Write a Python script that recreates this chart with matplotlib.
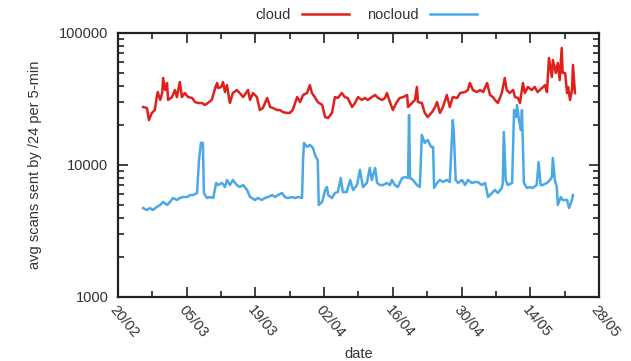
import matplotlib
matplotlib.use("Agg")
import matplotlib.pyplot as plt
from matplotlib.ticker import FixedLocator, LogLocator, NullFormatter, FixedFormatter
import numpy as np

plt.rcParams['font.family'] = ['Liberation Sans', 'DejaVu Sans']

# x: days since 20/02 (2012), y: avg scans sent by /24 per 5-min
cloud_days = [5.1, 5.9, 6.3, 6.9, 7.5, 7.9, 8.1, 8.6, 9.0, 9.2, 9.6, 10.0, 10.2, 11.0, 11.6, 12.0,
              12.6, 13.0, 13.6, 14.3, 15.1, 15.7, 16.3, 17.1, 17.7, 18.3, 19.1, 19.8, 20.2, 20.4,
              21.0, 21.4, 21.8, 22.2, 22.8, 23.4, 24.2, 24.8, 25.5, 26.5, 26.9, 27.5, 28.3, 28.9,
              29.5, 30.4, 31.0, 31.6, 32.4, 33.0, 33.6, 34.4, 35.0, 35.6, 36.5, 37.1, 37.7, 38.5,
              39.1, 39.5, 40.1, 40.7, 41.6, 42.2, 42.8, 43.6, 44.2, 44.8, 45.6, 46.2, 46.8, 47.7,
              48.3, 48.9, 49.7, 50.3, 50.9, 51.7, 52.4, 53.0, 53.8, 54.4, 54.8, 55.4, 56.0, 56.8,
              57.4, 58.1, 58.9, 59.1, 59.9, 60.5, 60.9, 61.1, 61.9, 62.5, 63.1, 64.0, 64.6, 65.0,
              65.6, 66.2, 67.0, 67.6, 68.2, 69.1, 69.7, 70.7, 71.3, 71.7, 72.3, 73.1, 73.8, 74.4,
              75.2, 75.8, 76.4, 76.8, 77.4, 78.2, 78.8, 79.2, 79.8, 80.5, 80.9, 81.5, 81.9, 82.5,
              82.9, 83.5, 84.3, 84.9, 85.5, 86.4, 87.0, 87.4, 87.8, 88.4, 88.6, 89.2, 89.6, 90.0,
              90.4, 90.6, 91.1, 91.5, 91.7, 92.1, 92.5, 92.7, 93.1]
cloud_vals = [27500, 27000, 21900, 24800, 26100, 32700, 35700, 31100, 35100, 45600, 37000, 41800,
              31100, 32700, 37000, 32700, 42500, 32700, 35100, 32700, 32200, 30000, 29500, 29500,
              28500, 29500, 31100, 38300, 41800, 38300, 39000, 42500, 35700, 40300, 29500, 35100,
              37000, 35100, 32700, 37000, 31100, 35100, 32700, 26100, 27000, 32200, 27500, 27000,
              26100, 26100, 25200, 24800, 24800, 26100, 32700, 30000, 33900, 35100, 40300, 35100,
              32700, 30000, 28500, 23100, 22700, 24800, 32700, 32200, 35100, 32700, 32200, 27500,
              29500, 32700, 31100, 32200, 31100, 32700, 33900, 32200, 31100, 32200, 35100, 30000,
              26100, 30000, 32200, 32700, 33900, 27500, 29500, 31100, 39000, 30000, 29500, 24800,
              23100, 25200, 27500, 30000, 24800, 27500, 33900, 27500, 32700, 32200, 35100, 35700,
              37000, 41800, 37000, 35700, 37000, 35700, 41800, 33900, 32700, 31100, 29500, 35100,
              45600, 37000, 35100, 37000, 32700, 32200, 29500, 41800, 35100, 39000, 37000, 39000,
              35700, 38300, 40300, 35700, 64700, 46400, 62400, 49800, 59300, 44000, 77000, 49800,
              49800, 35100, 39000, 31100, 37000, 57300, 35100]

nocloud_days = [5.1, 5.9, 6.5, 7.1, 7.9, 8.6, 9.2, 10.0, 10.6, 11.2, 12.0, 12.6, 13.2, 14.1, 14.7,
                15.3, 16.1, 16.5, 16.9, 17.3, 17.5, 18.1, 18.7, 19.4, 20.0, 20.4, 21.2, 21.8, 22.2,
                22.8, 23.4, 24.2, 24.8, 25.5, 26.3, 26.9, 27.3, 27.9, 28.5, 29.3, 29.9, 30.6, 31.4,
                32.0, 32.6, 33.4, 34.0, 34.6, 35.4, 36.1, 36.7, 37.5, 37.7, 37.9, 38.5, 39.1, 39.7,
                40.3, 40.7, 40.9, 41.6, 42.2, 42.6, 42.8, 43.6, 44.2, 44.8, 45.4, 45.8, 46.6, 47.3,
                47.9, 48.7, 49.3, 49.9, 50.7, 51.3, 51.7, 52.4, 52.8, 53.4, 54.0, 54.8, 55.4, 55.8,
                56.4, 57.0, 57.9, 58.5, 59.1, 59.3, 59.5, 60.1, 60.9, 61.5, 61.9, 62.5, 63.1, 63.8,
                64.2, 64.4, 65.0, 65.6, 66.2, 67.0, 67.6, 68.2, 68.4, 68.8, 69.3, 70.1, 70.7, 71.3,
                72.1, 72.7, 73.3, 74.1, 74.8, 75.4, 76.2, 76.8, 77.4, 78.2, 78.4, 78.6, 79.0, 79.4,
                80.3, 80.7, 81.1, 81.3, 81.7, 82.1, 82.3, 82.7, 83.3, 83.9, 84.5, 85.3, 85.7, 86.1,
                86.5, 87.4, 88.0, 88.4, 88.6, 89.0, 89.4, 89.6, 90.2, 90.6, 91.5, 91.9, 92.5, 92.7]
nocloud_vals = [4720, 4560, 4720, 4560, 4810, 4980, 5250, 4980, 5250, 5620, 5430, 5620, 5720, 5720,
                5920, 5920, 6140, 10900, 14700, 14700, 6140, 5620, 5720, 5620, 7310, 7050, 7310,
                6810, 7700, 7050, 7700, 7050, 6810, 7050, 6470, 5720, 5620, 5430, 5620, 5430, 5620,
                5720, 5920, 5720, 5920, 6140, 5720, 5620, 5720, 5620, 5720, 5620, 10900, 14700,
                13700, 14200, 13500, 11500, 10900, 4980, 5250, 6470, 6810, 5920, 5620, 6140, 6240,
                7980, 6240, 6240, 7700, 6470, 7050, 9200, 6810, 7310, 9500, 7700, 9500, 7310, 7050,
                7050, 7310, 7050, 7700, 7050, 6810, 7980, 8100, 7980, 23900, 7980, 7700, 7050, 6810,
                16900, 14700, 15500, 13700, 13700, 6700, 7310, 7700, 7430, 7700, 7430, 21900, 18400,
                7700, 7310, 7700, 7050, 7700, 7310, 7430, 7430, 7050, 7310, 5720, 6140, 6470, 6140,
                6700, 7310, 17800, 7700, 7050, 7310, 26100, 23100, 28500, 21900, 18400, 26100, 7310,
                6700, 6810, 6700, 7050, 10500, 7050, 7050, 7310, 7700, 8100, 11300, 7700, 6810, 4980,
                5720, 5430, 5430, 4720, 5430, 5920]

tick_days = [0, 14, 28, 42, 56, 70, 84, 98]
tick_labels = ['20/02', '05/03', '19/03', '02/04', '16/04', '30/04', '14/05', '28/05']

fig = plt.figure(figsize=(6.31, 3.61), dpi=100)
ax = fig.add_axes([118/631, 1-297/361, (599-118)/631, (297-33)/361])

l1, = ax.plot(cloud_days, cloud_vals, color='#e0201b', lw=1.8, label='cloud')
l2, = ax.plot(nocloud_days, nocloud_vals, color='#4aa8e6', lw=1.8, label='nocloud')

ax.set_yscale('log')
ax.set_ylim(1000, 100000)
ax.set_xlim(tick_days[0], tick_days[-1])
ax.set_yticks([1000, 10000, 100000])
ax.set_yticklabels(['1000', '10000', '100000'])
ax.yaxis.set_minor_locator(LogLocator(base=10, subs=np.arange(2, 10)))
ax.yaxis.set_minor_formatter(NullFormatter())

ax.xaxis.set_major_locator(FixedLocator(tick_days))
ax.xaxis.set_major_formatter(FixedFormatter(tick_labels))
ax.xaxis.set_minor_locator(FixedLocator([7, 21, 35, 49, 63, 77, 91]))

ax.tick_params(which='both', direction='in', top=True, right=True, width=1.2, colors='#222222',
               labelsize=10.5, labelcolor='#333333')
ax.tick_params(which='major', length=7)
ax.tick_params(which='minor', length=4)
ax.tick_params(axis='y', pad=7)
ax.tick_params(axis='x', pad=4)
for lab in ax.get_xticklabels():
    lab.set_rotation(-50)
    lab.set_ha('left')
    lab.set_va('top')
    lab.set_rotation_mode('anchor')

for s in ax.spines.values():
    s.set_linewidth(1.6)
    s.set_color('#222222')

ax.set_ylabel('avg scans sent by /24 per 5-min', fontsize=10.5, color='#333333', labelpad=12)
ax.set_xlabel('date', fontsize=10.5, color='#333333', labelpad=5)

fig.legend(handles=[l1, l2], loc='center', bbox_to_anchor=(366/631, 1-15/361), ncol=2,
           frameon=False, markerfirst=False, fontsize=10.5, handlelength=3.2,
           columnspacing=1.2, handletextpad=0.8, labelcolor='#333333')

fig.savefig('out.png', dpi=100)
